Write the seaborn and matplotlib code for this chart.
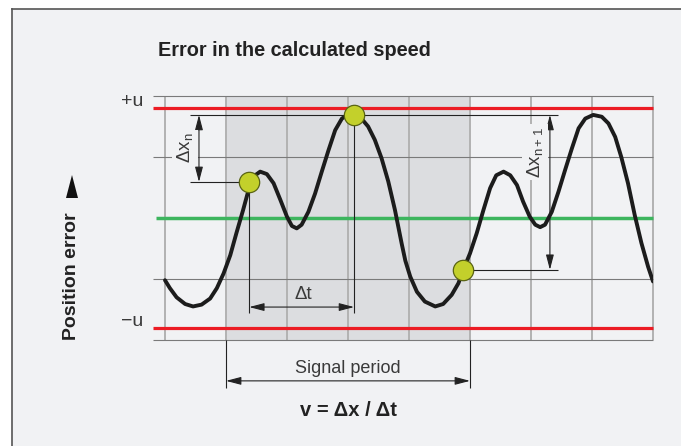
import matplotlib
matplotlib.use('Agg')
import matplotlib.pyplot as plt
import seaborn as sns
from matplotlib.patches import Rectangle, Polygon
from matplotlib.lines import Line2D

plt.rcParams['font.family'] = ['Liberation Sans', 'DejaVu Sans']
plt.rcParams['mathtext.default'] = 'regular'

# position error signal, x in grid columns (0..8), y in grid rows (-2..2)
curve_x = [0.00, 0.08, 0.19, 0.33, 0.46, 0.60, 0.74, 0.85, 0.96, 1.07, 1.17, 1.28, 1.37,
           1.45, 1.56, 1.67, 1.78, 1.89, 2.00, 2.08, 2.16, 2.24, 2.35, 2.46, 2.57, 2.68,
           2.79, 2.90, 3.01, 3.11, 3.22, 3.33, 3.44, 3.55, 3.66, 3.77, 3.88, 3.94, 4.02,
           4.13, 4.26, 4.43, 4.56, 4.70, 4.81, 4.89, 5.00, 5.11, 5.22, 5.33, 5.43, 5.55,
           5.66, 5.77, 5.87, 5.98, 6.07, 6.15, 6.23, 6.34, 6.45, 6.56, 6.67, 6.78, 6.89,
           7.02, 7.16, 7.27, 7.38, 7.48, 7.59, 7.70, 7.81, 7.92, 8.00]
curve_y = [-1.02, -1.15, -1.30, -1.41, -1.45, -1.42, -1.32, -1.15, -0.91, -0.61, -0.25, 0.13, 0.46,
           0.68, 0.76, 0.72, 0.57, 0.30, 0.02, -0.13, -0.17, -0.11, 0.10, 0.40, 0.76, 1.11,
           1.44, 1.63, 1.70, 1.70, 1.63, 1.50, 1.28, 0.98, 0.60, 0.13, -0.42, -0.70, -0.96,
           -1.21, -1.37, -1.45, -1.41, -1.26, -1.07, -0.85, -0.58, -0.25, 0.13, 0.49, 0.70, 0.76,
           0.70, 0.54, 0.27, 0.02, -0.11, -0.15, -0.11, 0.10, 0.43, 0.79, 1.14, 1.47, 1.63,
           1.69, 1.66, 1.55, 1.33, 1.00, 0.57, 0.05, -0.41, -0.80, -1.04]

# sample points used for the speed calculation
points_x = [1.38, 3.10, 4.89]
points_y = [0.59, 1.69, -0.85]

u_level = 1.8
period = [1, 5]
grid_cols = list(range(0, 9))
grid_rows = [-2, -1, 1, 2]

BG = '#f1f2f4'
SHADE = '#dcdde0'
W, H = 681, 446


def fx(px):
    return px / W


def fy(py):
    return 1 - py / H


fig = plt.figure(figsize=(6.81, 4.46), dpi=100)
fig.patch.set_facecolor('white')
fig.patches.append(Rectangle((fx(12), 0), 1 - fx(12), fy(9), transform=fig.transFigure,
                             facecolor=BG, edgecolor='none', zorder=-5))
fig.lines.append(Line2D([fx(12), 1], [fy(9), fy(9)], transform=fig.transFigure, color='#555555',
                        lw=1.2, zorder=-4))
fig.lines.append(Line2D([fx(12), fx(12)], [fy(9), 0], transform=fig.transFigure, color='#555555',
                        lw=1.2, zorder=-4))

# axes: x -0.2..8 -> px 152.8..653, y -2..2 -> py 340..96
ax = fig.add_axes([fx(152.8), fy(340), fx(653 - 152.8), (340 - 96) / H])
ax.set_xlim(-0.2, 8.0)
ax.set_ylim(-2, 2)
ax.set_facecolor('none')
for s in ax.spines.values():
    s.set_visible(False)
ax.set_xticks([])
ax.set_yticks([])

ax.axvspan(period[0], period[1], color=SHADE, zorder=0, lw=0)
ax.vlines(grid_cols, -2, 2, color='#b2b2b2', lw=1.4, zorder=1, clip_on=False)
ax.hlines(grid_rows, -0.2, 8, color='#7a7a7a', lw=0.8, zorder=1, clip_on=False)

ax.hlines([u_level, -u_level], -0.2, 8, color='#ec1c24', lw=2.3, zorder=2, clip_on=False)
ax.hlines([0], -0.15, 8, color='#3db55e', lw=2.5, zorder=2, clip_on=False)

# dimension lines
lc = '#222222'
ax.hlines(points_y[1], 0.41, 6.44, color=lc, lw=0.8, zorder=3)
ax.hlines(points_y[0], 0.41, points_x[0], color=lc, lw=0.8, zorder=3)
ax.hlines(points_y[2], points_x[2], 6.44, color=lc, lw=0.8, zorder=3)
ax.vlines([points_x[0]], -1.56, points_y[0], color=lc, lw=0.8, zorder=3)
ax.vlines([points_x[1]], -1.56, points_y[1], color=lc, lw=0.8, zorder=3)
ax.vlines(period, -2.79, -2, color=lc, lw=0.8, zorder=3, clip_on=False)

arrow = dict(arrowstyle='<|-|>,head_length=0.65,head_width=0.17', color=lc, lw=0.8,
             shrinkA=0, shrinkB=0, mutation_scale=14)
ax.annotate('', xy=(0.557, points_y[1]), xytext=(0.557, points_y[0]), arrowprops=arrow, zorder=4)
ax.annotate('', xy=(6.31, points_y[1]), xytext=(6.31, points_y[2]), arrowprops=arrow, zorder=4)
ax.annotate('', xy=(points_x[0], -1.46), xytext=(points_x[1], -1.46), arrowprops=arrow, zorder=4)
ax.annotate('', xy=(period[0], -2.67), xytext=(period[1], -2.67), arrowprops=arrow,
            annotation_clip=False, zorder=4)

box = dict(boxstyle='square,pad=0.15', fc=BG, ec='none')
ax.text(0.33, 1.15, 'Δx$_{n}$', rotation=90, ha='center', va='center', fontsize=13.5,
        color='#3a3a3a', bbox=box, zorder=4)
ax.text(6.07, 1.08, 'Δx$_{n+1}$', rotation=90, ha='center', va='center', fontsize=13.5,
        color='#3a3a3a', bbox=box, zorder=4)
ax.text(2.26, -1.25, 'Δt', ha='center', va='center', fontsize=13.5, color='#3a3a3a', zorder=4)
ax.text(3.0, -2.46, 'Signal period', ha='center', va='center', fontsize=13,
        color='#3a3a3a', clip_on=False)

sns.lineplot(x=curve_x, y=curve_y, ax=ax, color='#1c1c1c', lw=2.8, sort=False,
             estimator=None, zorder=5)
ax.lines[-1].set_solid_joinstyle('round')
ax.lines[-1].set_solid_capstyle('round')
sns.scatterplot(x=points_x, y=points_y, ax=ax, s=215, color='#c3d02b', edgecolor='#5a6414',
                linewidth=0.9, zorder=6)

# labels around the plot
fig.text(fx(158), fy(50), 'Error in the calculated speed', fontsize=14.3, fontweight='bold',
         color='#222222', ha='left', va='center')
fig.text(fx(132), fy(102), '+u', fontsize=14, color='#3a3a3a', ha='center', va='center')
fig.text(fx(132), fy(321), '−u', fontsize=14, color='#3a3a3a', ha='center', va='center')
fig.text(fx(72), fy(276), 'Position error', fontsize=14, fontweight='bold', rotation=90,
         color='#222222', ha='center', va='center')
fig.patches.append(Polygon([(fx(66), fy(198)), (fx(78), fy(198)), (fx(72), fy(175))],
                           closed=True, transform=fig.transFigure, facecolor='#111111',
                           edgecolor='none'))
fig.text(fx(348), fy(410), 'v = Δx / Δt', fontsize=14.5, fontweight='bold', color='#222222',
         ha='center', va='center')

fig.savefig('out.png', dpi=100, facecolor=fig.get_facecolor())
